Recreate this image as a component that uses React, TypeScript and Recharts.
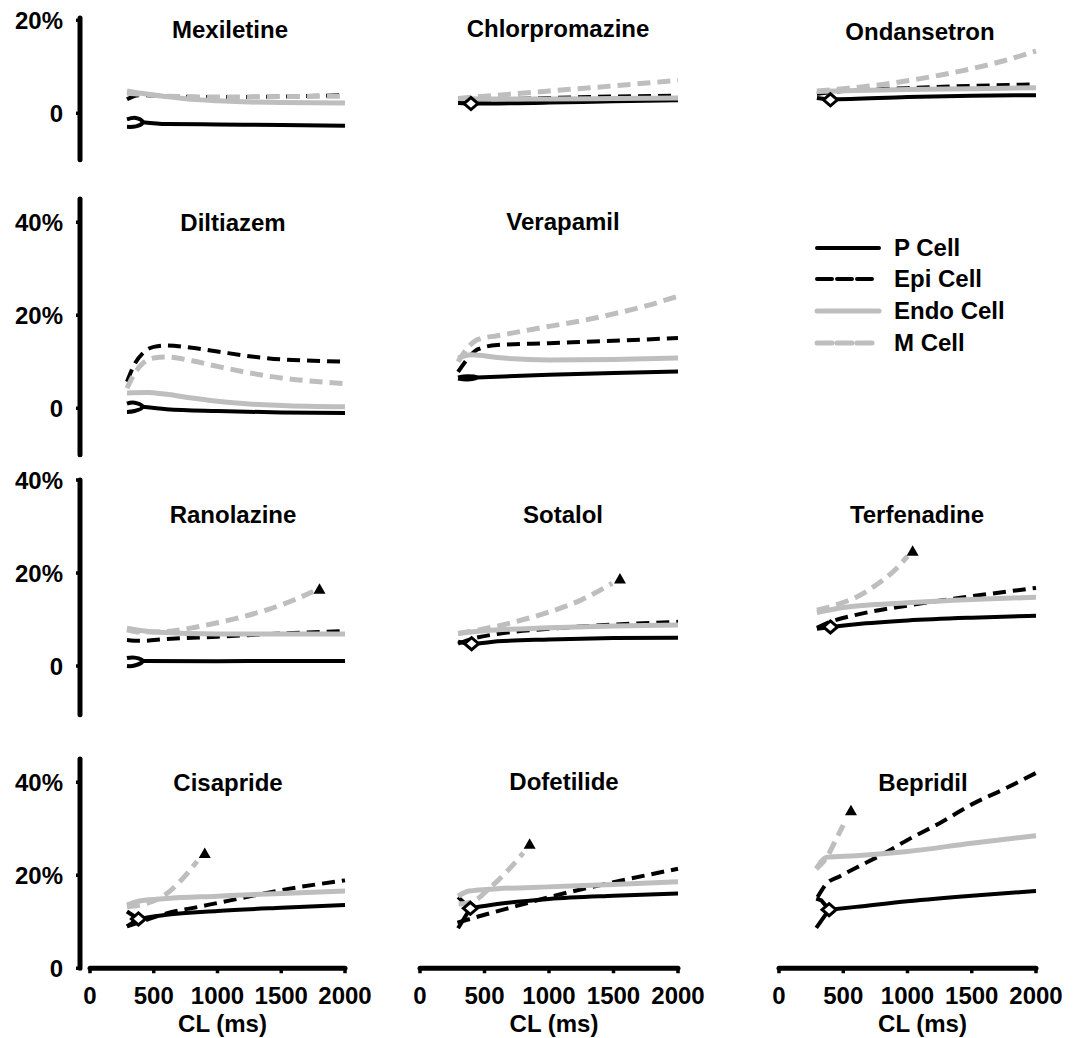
import React from 'react';
import { ComposedChart, Line, Scatter, XAxis, YAxis, ReferenceLine, Label } from 'recharts';

type Pt = [number, number];

// [CL (ms), value (%)]
const mexiletineP: Pt[] = [[412, -1.9], [600, -2.3], [1000, -2.4], [1500, -2.5], [2000, -2.7]];
const mexiletinePHook: Pt[] = [[290, -1.3], [360, -1.0], [412, -1.9], [360, -2.8], [290, -2.9]];
const mexiletineEpi: Pt[] = [[290, 3.0], [380, 3.9], [600, 3.7], [1000, 3.5], [1500, 3.6], [2000, 3.9]];
const mexiletineEndo: Pt[] = [[290, 4.8], [400, 4.3], [600, 3.6], [800, 3.0], [1000, 2.7], [1500, 2.3], [2000, 2.2]];
const mexiletineM: Pt[] = [[290, 4.3], [400, 4.1], [600, 3.7], [1000, 3.5], [1500, 3.6], [2000, 3.7]];

const chlorpromazineP: Pt[] = [[295, 2.2], [395, 2.1], [1000, 2.3], [1500, 2.6], [2000, 2.8]];
const chlorpromazineDia: Pt[] = [[395, 2.1]];
const chlorpromazineEpi: Pt[] = [[295, 2.8], [600, 3.0], [1000, 3.3], [1500, 3.6], [2000, 3.8]];
const chlorpromazineEndo: Pt[] = [[295, 3.2], [500, 3.1], [1000, 3.1], [1500, 3.2], [2000, 3.3]];
const chlorpromazineM: Pt[] = [[295, 3.2], [600, 3.9], [1000, 4.8], [1500, 5.9], [2000, 7.1]];

const ondansetronP: Pt[] = [[295, 3.3], [400, 3.0], [1000, 3.5], [1500, 3.8], [2000, 3.9]];
const ondansetronDia: Pt[] = [[400, 2.9]];
const ondansetronEpi: Pt[] = [[295, 4.2], [500, 4.8], [1000, 5.4], [1500, 5.9], [2000, 6.2]];
const ondansetronEndo: Pt[] = [[295, 4.7], [600, 4.9], [1000, 5.1], [1500, 5.3], [2000, 5.5]];
const ondansetronM: Pt[] = [[295, 4.8], [500, 5.3], [750, 6.0], [1000, 7.0], [1250, 8.2], [1500, 9.6], [1750, 11.3], [2000, 13.4]];

const diltiazemP: Pt[] = [[412, 0.3], [600, -0.2], [1000, -0.6], [1500, -0.9], [2000, -1.0]];
const diltiazemPHook: Pt[] = [[290, 1.0], [350, 1.2], [412, 0.3], [350, -0.6], [290, -0.8]];
const diltiazemEpi: Pt[] = [[290, 5.7], [350, 9.5], [420, 12.0], [500, 13.2], [600, 13.5], [800, 13.0], [1000, 12.2], [1250, 11.2], [1500, 10.5], [1750, 10.2], [2000, 10.0]];
const diltiazemEndo: Pt[] = [[290, 3.3], [450, 3.4], [600, 3.0], [800, 2.2], [1000, 1.5], [1200, 1.0], [1500, 0.6], [2000, 0.3]];
const diltiazemM: Pt[] = [[290, 4.3], [350, 7.5], [420, 9.8], [500, 10.8], [600, 11.0], [800, 10.2], [1000, 9.0], [1250, 7.6], [1500, 6.5], [1750, 5.8], [2000, 5.3]];

const verapamilP: Pt[] = [[440, 6.6], [1000, 7.2], [1500, 7.6], [2000, 7.9]];
const verapamilPHook: Pt[] = [[295, 6.6], [370, 6.9], [440, 6.6], [370, 6.2], [295, 6.4]];
const verapamilEpi: Pt[] = [[295, 7.8], [380, 11.0], [450, 12.7], [600, 13.6], [1000, 14.0], [1500, 14.5], [2000, 15.1]];
const verapamilEndo: Pt[] = [[295, 10.8], [400, 11.5], [600, 10.9], [1000, 10.4], [1500, 10.5], [2000, 10.8]];
const verapamilM: Pt[] = [[295, 10.0], [380, 13.3], [450, 14.8], [600, 15.6], [800, 16.6], [1000, 17.6], [1250, 18.8], [1500, 20.3], [1750, 22.0], [2000, 24.1]];

const ranolazineP: Pt[] = [[412, 1.1], [1000, 1.0], [1500, 1.1], [2000, 1.1]];
const ranolazinePHook: Pt[] = [[290, 1.7], [350, 1.8], [412, 1.1], [350, 0.1], [290, 0.0]];
const ranolazineEpi: Pt[] = [[290, 5.6], [400, 5.4], [600, 5.8], [1000, 6.3], [1500, 7.0], [2000, 7.5]];
const ranolazineEndo: Pt[] = [[290, 8.1], [500, 7.3], [1000, 6.9], [1500, 6.9], [2000, 6.9]];
const ranolazineM: Pt[] = [[290, 7.8], [400, 7.3], [600, 7.4], [800, 8.2], [1000, 9.3], [1200, 10.6], [1400, 12.2], [1600, 14.2], [1750, 16.0]];
const ranolazineTri: Pt[] = [[1800, 16.6]];

const sotalolP: Pt[] = [[295, 5.2], [400, 4.8], [600, 5.3], [1000, 5.7], [1500, 6.0], [2000, 6.1]];
const sotalolDia: Pt[] = [[400, 4.8]];
const sotalolEpi: Pt[] = [[295, 4.8], [400, 5.8], [600, 6.9], [1000, 8.0], [1500, 8.9], [2000, 9.5]];
const sotalolEndo: Pt[] = [[295, 7.0], [500, 7.6], [1000, 8.2], [1500, 8.6], [2000, 8.8]];
const sotalolM: Pt[] = [[295, 7.0], [500, 8.0], [750, 9.6], [1000, 11.6], [1250, 14.2], [1490, 17.8]];
const sotalolTri: Pt[] = [[1550, 18.8]];

const terfenadineP: Pt[] = [[295, 8.0], [400, 8.4], [600, 9.0], [1000, 9.8], [1500, 10.4], [2000, 10.8]];
const terfenadineDia: Pt[] = [[400, 8.4]];
const terfenadineEpi: Pt[] = [[295, 8.2], [400, 9.5], [600, 11.0], [1000, 13.0], [1500, 15.0], [2000, 16.8]];
const terfenadineEndo: Pt[] = [[295, 11.5], [500, 12.6], [1000, 13.6], [1500, 14.3], [2000, 14.8]];
const terfenadineM: Pt[] = [[295, 12.0], [450, 13.2], [600, 14.8], [750, 17.3], [900, 20.6], [1000, 23.6]];
const terfenadineTri: Pt[] = [[1040, 24.8]];

const cisaprideP: Pt[] = [[380, 10.6], [600, 11.5], [1000, 12.3], [1500, 13.0], [2000, 13.6]];
const cisapridePHook: Pt[] = [[290, 12.2], [380, 10.6], [290, 9.0]];
const cisaprideDia: Pt[] = [[380, 10.6]];
const cisaprideEpi: Pt[] = [[290, 9.0], [400, 10.0], [600, 11.8], [850, 13.2], [1100, 14.6], [1500, 16.8], [2000, 18.9]];
const cisaprideEndo: Pt[] = [[290, 13.6], [400, 14.5], [600, 15.0], [1000, 15.5], [1500, 16.1], [2000, 16.6]];
const cisaprideM: Pt[] = [[290, 13.2], [450, 14.0], [600, 16.0], [700, 18.5], [840, 23.0]];
const cisaprideTri: Pt[] = [[900, 24.8]];

const dofetilideP: Pt[] = [[390, 12.9], [600, 13.8], [1000, 14.9], [1500, 15.6], [2000, 16.1]];
const dofetilidePHook: Pt[] = [[295, 15.3], [390, 12.9], [295, 8.6]];
const dofetilideDia: Pt[] = [[390, 12.9]];
const dofetilideEpi: Pt[] = [[290, 9.8], [500, 11.5], [750, 13.4], [1000, 15.3], [1500, 18.5], [2000, 21.4]];
const dofetilideEndo: Pt[] = [[295, 15.5], [380, 16.6], [600, 17.1], [1000, 17.5], [1500, 18.0], [2000, 18.6]];
const dofetilideM: Pt[] = [[300, 13.8], [400, 14.2], [550, 17.5], [680, 21.0], [800, 24.8]];
const dofetilideTri: Pt[] = [[850, 26.8]];

const bepridilP: Pt[] = [[390, 12.6], [600, 13.2], [1000, 14.4], [1500, 15.6], [2000, 16.6]];
const bepridilPHook: Pt[] = [[290, 15.0], [330, 14.6], [390, 12.6], [290, 8.7]];
const bepridilDia: Pt[] = [[390, 12.6]];
const bepridilEpi: Pt[] = [[300, 15.3], [370, 18.2], [475, 19.8], [600, 21.6], [838, 25.0], [1000, 27.6], [1250, 31.2], [1512, 35.4], [1750, 38.5], [2000, 42.0]];
const bepridilEndo: Pt[] = [[290, 21.4], [375, 23.9], [600, 24.2], [1000, 25.1], [1500, 26.9], [2000, 28.5]];
const bepridilM: Pt[] = [[290, 21.4], [375, 24.0], [440, 27.5], [500, 30.8]];
const bepridilTri: Pt[] = [[560, 34.0]];

const xTicks = [0, 500, 1000, 1500, 2000];
const legendLabels = ['P Cell', 'Epi Cell', 'Endo Cell', 'M Cell'];

const FONT = '"Liberation Sans", Arial, Helvetica, sans-serif';
const GRAY = '#bebebe';
const PX = 4.65; // px per %

const rows = [
  { zero: 113, min: -10, max: 20.5, ticks: [0, 20] },
  { zero: 408, min: -10, max: 45, ticks: [0, 20, 40] },
  { zero: 666, min: -10.5, max: 40, ticks: [0, 20, 40] },
  { zero: 968, min: 0, max: 45, ticks: [0, 20, 40] },
];
const cols = [
  { plotLeft: 80, pad: 10, width: 265, labelDx: 10 },
  { plotLeft: 420, pad: 0, width: 258, labelDx: 5 },
  { plotLeft: 779, pad: 0, width: 257, labelDx: 15 },
];

type Panel = {
  title: string; row: number; col: number; tx: number; ty: number;
  p: Pt[]; epi: Pt[]; endo: Pt[]; m: Pt[];
  pHook?: Pt[]; hookCurve?: 'natural' | 'linear'; dia?: Pt[]; tri?: Pt[];
};

const panels: Panel[] = [
  { title: 'Mexiletine', row: 0, col: 0, tx: 230, ty: 30, p: mexiletineP, pHook: mexiletinePHook, hookCurve: 'natural', epi: mexiletineEpi, endo: mexiletineEndo, m: mexiletineM },
  { title: 'Chlorpromazine', row: 0, col: 1, tx: 558, ty: 29, p: chlorpromazineP, dia: chlorpromazineDia, epi: chlorpromazineEpi, endo: chlorpromazineEndo, m: chlorpromazineM },
  { title: 'Ondansetron', row: 0, col: 2, tx: 920, ty: 32, p: ondansetronP, dia: ondansetronDia, epi: ondansetronEpi, endo: ondansetronEndo, m: ondansetronM },
  { title: 'Diltiazem', row: 1, col: 0, tx: 233, ty: 223, p: diltiazemP, pHook: diltiazemPHook, hookCurve: 'natural', epi: diltiazemEpi, endo: diltiazemEndo, m: diltiazemM },
  { title: 'Verapamil', row: 1, col: 1, tx: 563, ty: 222, p: verapamilP, pHook: verapamilPHook, hookCurve: 'natural', epi: verapamilEpi, endo: verapamilEndo, m: verapamilM },
  { title: 'Ranolazine', row: 2, col: 0, tx: 233, ty: 515, p: ranolazineP, pHook: ranolazinePHook, hookCurve: 'natural', epi: ranolazineEpi, endo: ranolazineEndo, m: ranolazineM, tri: ranolazineTri },
  { title: 'Sotalol', row: 2, col: 1, tx: 563, ty: 515, p: sotalolP, dia: sotalolDia, epi: sotalolEpi, endo: sotalolEndo, m: sotalolM, tri: sotalolTri },
  { title: 'Terfenadine', row: 2, col: 2, tx: 917, ty: 515, p: terfenadineP, dia: terfenadineDia, epi: terfenadineEpi, endo: terfenadineEndo, m: terfenadineM, tri: terfenadineTri },
  { title: 'Cisapride', row: 3, col: 0, tx: 228, ty: 783, p: cisaprideP, pHook: cisapridePHook, hookCurve: 'linear', dia: cisaprideDia, epi: cisaprideEpi, endo: cisaprideEndo, m: cisaprideM, tri: cisaprideTri },
  { title: 'Dofetilide', row: 3, col: 1, tx: 564, ty: 782, p: dofetilideP, pHook: dofetilidePHook, hookCurve: 'linear', dia: dofetilideDia, epi: dofetilideEpi, endo: dofetilideEndo, m: dofetilideM, tri: dofetilideTri },
  { title: 'Bepridil', row: 3, col: 2, tx: 923, ty: 783, p: bepridilP, pHook: bepridilPHook, hookCurve: 'linear', dia: bepridilDia, epi: bepridilEpi, endo: bepridilEndo, m: bepridilM, tri: bepridilTri },
];

const toRows = (pts: Pt[]) => pts.map(([cl, v]) => ({ cl, v }));

const styles = {
  p: { stroke: '#000', strokeWidth: 4 },
  epi: { stroke: '#000', strokeWidth: 4, strokeDasharray: '13 7' },
  endo: { stroke: GRAY, strokeWidth: 5 },
  m: { stroke: GRAY, strokeWidth: 5, strokeDasharray: '13 7' },
};

const tickStyle = { fill: '#000', fontSize: 24, fontWeight: 'bold', fontFamily: FONT };
const fmtPct = (v: number) => (v === 0 ? '0' : `${v}%`);

const Diamond = (props: any) => {
  const { cx, cy } = props;
  return (
    <polygon
      points={`${cx - 7},${cy} ${cx},${cy - 6} ${cx + 7},${cy} ${cx},${cy + 6}`}
      fill="#fff"
      stroke="#000"
      strokeWidth={3}
    />
  );
};

const Triangle = (props: any) => {
  const { cx, cy } = props;
  return <polygon points={`${cx - 6},${cy + 5} ${cx},${cy - 5.5} ${cx + 6},${cy + 5}`} fill="#000" />;
};

const MT = 14;
const MB = 14;
const ML = 30;
const MR = 30;
const YW = 70;
const XH = 70;

function PanelChart({ panel }: { panel: Panel }) {
  const row = rows[panel.row];
  const col = cols[panel.col];
  const isBottom = panel.row === 3;
  const isLeft = panel.col === 0;
  const plotH = (row.max - row.min) * PX;
  const plotTop = row.zero - row.max * PX;
  const height = MT + plotH + (isBottom ? XH : MB);
  const left = isLeft ? col.plotLeft - YW : col.plotLeft - ML;
  const width = (isLeft ? YW : ML) + col.width + MR;

  const series = [
    { key: 'p', data: panel.p, style: styles.p, curve: 'monotone' },
    ...(panel.pHook ? [{ key: 'ph', data: panel.pHook, style: styles.p, curve: panel.hookCurve || 'linear' }] : []),
    { key: 'epi', data: panel.epi, style: styles.epi, curve: 'monotone' },
    { key: 'endo', data: panel.endo, style: styles.endo, curve: 'monotone' },
    { key: 'm', data: panel.m, style: styles.m, curve: 'monotone' },
  ];

  return (
    <div style={{ position: 'absolute', left, top: plotTop - MT }}>
      <ComposedChart
        width={width}
        height={height}
        margin={{ top: MT, right: MR, bottom: isBottom ? 0 : MB, left: isLeft ? 0 : ML }}
      >
        <XAxis
          type="number"
          dataKey="cl"
          domain={[0, 2000]}
          ticks={xTicks}
          interval={0}
          hide={!isBottom}
          height={XH}
          padding={{ left: col.pad, right: 0 }}
          axisLine={false}
          tickLine={{ stroke: '#000', strokeWidth: 3.5 }}
          tickSize={5}
          tickMargin={14}
          tick={tickStyle}
        >
          {isBottom && (
            <Label
              value="CL (ms)"
              position="insideBottom"
              offset={6}
              dx={col.labelDx}
              fill="#000"
              fontSize={24}
              fontWeight="bold"
              fontFamily={FONT}
            />
          )}
        </XAxis>
        <YAxis
          type="number"
          dataKey="v"
          domain={[row.min, row.max]}
          ticks={row.ticks}
          interval={0}
          hide={!isLeft}
          width={YW}
          axisLine={{ stroke: '#000', strokeWidth: 5, strokeLinecap: 'round' }}
          tickLine={{ stroke: '#000', strokeWidth: 3.5 }}
          tickSize={4}
          tickMargin={13}
          tick={tickStyle}
          tickFormatter={fmtPct}
        />
        {isBottom && (
          <ReferenceLine
            segment={[{ x: 0, y: 0 }, { x: 2000, y: 0 }]}
            stroke="#000"
            strokeWidth={5}
            strokeLinecap="round"
            ifOverflow="visible"
          />
        )}
        {series.map((s) => (
          <Line
            key={s.key}
            data={toRows(s.data)}
            dataKey="v"
            type={s.curve as any}
            {...s.style}
            fill="none"
            dot={false}
            activeDot={false}
            legendType="none"
            isAnimationActive={false}
          />
        ))}
        {panel.dia && (
          <Scatter data={toRows(panel.dia)} dataKey="v" shape={Diamond} isAnimationActive={false} legendType="none" />
        )}
        {panel.tri && (
          <Scatter data={toRows(panel.tri)} dataKey="v" shape={Triangle} isAnimationActive={false} legendType="none" />
        )}
      </ComposedChart>
    </div>
  );
}

const legendStyles = [styles.p, { ...styles.epi, strokeDasharray: '15 5' }, styles.endo, { ...styles.m, strokeDasharray: '15 5' }];
const legendYs = [248, 279, 311, 343];

function CellLegend() {
  return (
    <>
      <svg style={{ position: 'absolute', left: 810, top: 230, overflow: 'visible' }} width={80} height={130}>
        {legendLabels.map((lab, i) => (
          <line
            key={lab}
            x1={7}
            x2={i % 2 === 1 ? 62 : 69}
            y1={legendYs[i] - 230}
            y2={legendYs[i] - 230}
            {...legendStyles[i]}
            strokeLinecap="round"
          />
        ))}
      </svg>
      {legendLabels.map((lab, i) => (
        <div
          key={lab}
          style={{
            position: 'absolute',
            left: 894,
            top: legendYs[i],
            transform: 'translateY(-50%)',
            fontFamily: FONT,
            fontWeight: 'bold',
            fontSize: 24,
            lineHeight: 1,
            whiteSpace: 'nowrap',
          }}
        >
          {lab}
        </div>
      ))}
    </>
  );
}

export default function App() {
  return (
    <div style={{ position: 'absolute', left: 0, top: 0, width: 1075, height: 1038, background: '#fff', overflow: 'hidden' }}>
      {panels.map((p) => (
        <PanelChart key={p.title} panel={p} />
      ))}
      {panels.map((p) => (
        <div
          key={`t-${p.title}`}
          style={{
            position: 'absolute',
            left: p.tx,
            top: p.ty,
            transform: 'translate(-50%, -50%)',
            fontFamily: FONT,
            fontWeight: 'bold',
            fontSize: 24,
            lineHeight: 1,
            whiteSpace: 'nowrap',
          }}
        >
          {p.title}
        </div>
      ))}
      <CellLegend />
    </div>
  );
}
